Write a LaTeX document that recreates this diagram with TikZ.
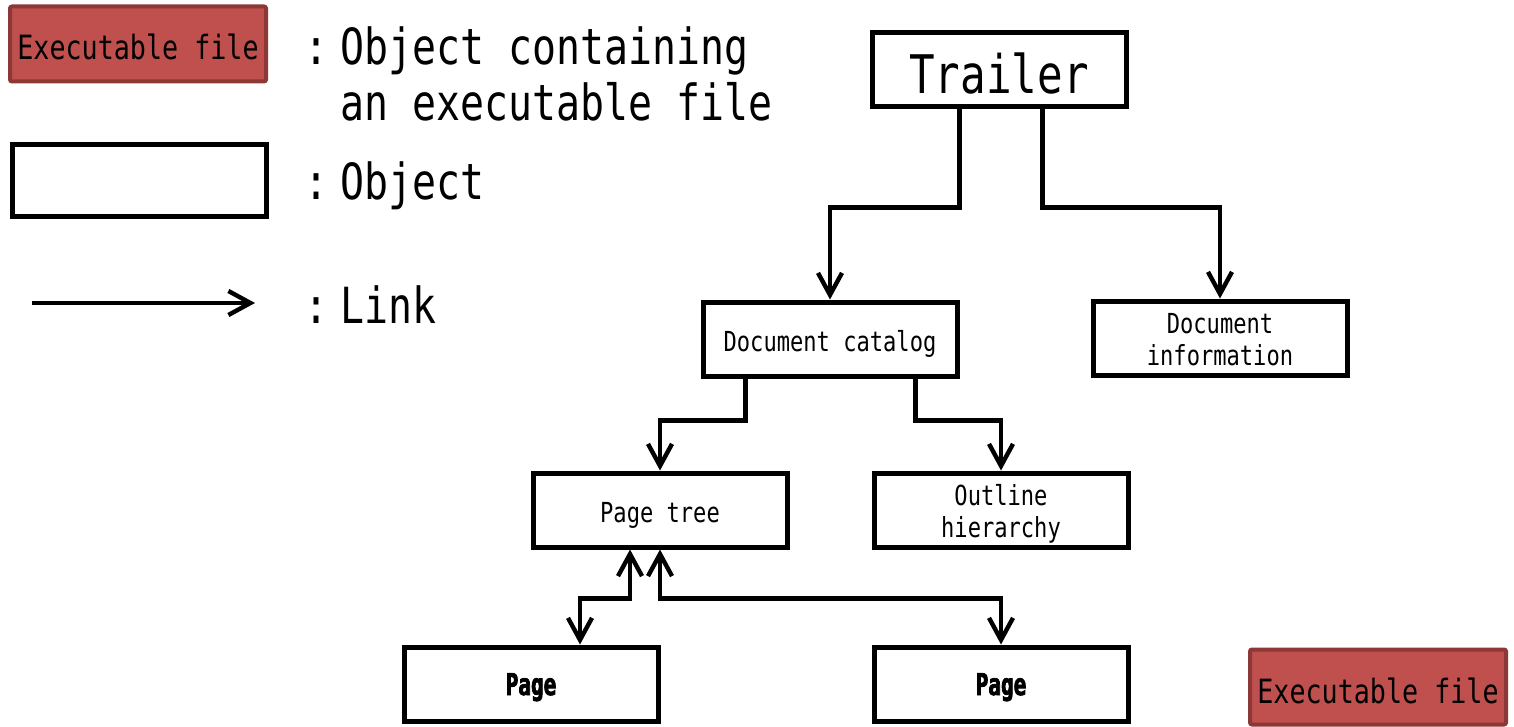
\documentclass[tikz,border=0pt]{standalone}
\usepackage{fontspec}
\usetikzlibrary{arrows.meta,calc}
\newfontfamily\monofont[FakeStretch=0.8]{DejaVu Sans Mono}
\newfontfamily\pagefont[FakeStretch=0.7,BoldFeatures={FakeBold=2.5}]{DejaVu Sans Mono}
\definecolor{exefill}{HTML}{C0504D}
\definecolor{exeborder}{HTML}{8C3836}
\begin{document}
\begin{tikzpicture}[x=0.5pt,y=-0.5pt,
  barb/.tip={Straight Barb[length=11pt,width=12pt]},
  obj/.style={draw=black, line width=2.5pt, fill=white, minimum width=127pt,
    minimum height=37pt, inner sep=0pt, align=center, text depth=0pt, text height=12pt,
    font=\monofont\fontsize{13.8}{16}\selectfont},
  twoline/.style={obj, text height=27pt},
  pagebox/.style={obj, text height=11pt, font=\pagefont\bfseries\fontsize{15}{17}\selectfont},
  bigobj/.style={obj, text height=24pt, font=\monofont\fontsize{26.6}{30}\selectfont},
  exe/.style={draw=exeborder, line width=2pt, fill=exefill, rounded corners=1pt,
    minimum width=128pt, minimum height=37.5pt, inner sep=0pt, text depth=0pt, text height=16pt,
    font=\monofont\fontsize{16.7}{19}\selectfont},
  link/.style={line width=2.2pt, -barb},
  biglink/.style={line width=2.2pt, barb-barb},
  biglabel/.style={anchor=base west, align=left, inner sep=0pt,
    font=\monofont\fontsize{24.9}{28}\selectfont}]
\useasboundingbox (0,0) rectangle (1514,727);

% legend
\node[exe] (legexe) at (138,44) {Executable file};
\node[biglabel] (legexetxt) at (340,121) {\llap{:\hspace{6pt}}Object containing\\an executable file};
\node[obj, minimum height=36pt] (legobj) at (139,181) {};
\node[biglabel] (legobjtxt) at (340,200) {\llap{:\hspace{6pt}}Object};
\coordinate (linkA) at (32,303);
\coordinate (linkB) at (255,303);
\draw[link] (linkA) -- (linkB);
\node[biglabel] (leglinktxt) at (340,323) {\llap{:\hspace{6pt}}Link};

% objects
\node[bigobj] (trailer) at (999,70) {Trailer};
\node[obj] (catalog) at (830,339) {Document catalog};
\node[twoline] (info) at (1220,338) {Document\\information};
\node[obj] (pagetree) at (660,510) {Page tree};
\node[twoline] (outline) at (1001,510) {Outline\\hierarchy};
\node[pagebox] (pageL) at (531,684) {Page};
\node[pagebox] (pageR) at (1001,684) {Page};
\node[exe] (exe) at (1378,687) {Executable file};

% links
\draw[link] ($(trailer.south west)+(90,0)$) -- ++(0,98) -| (catalog.north);
\draw[link] ($(trailer.south west)+(173,0)$) -- ++(0,98) -| (info.north);
\draw[link] ($(catalog.south west)+(45,0)$) -- ++(0,42) -| (pagetree.north);
\draw[link] ($(catalog.south west)+(215,0)$) -- ++(0,42) -| (outline.north);
\draw[biglink] ($(pagetree.south)+(-30,0)$) -- ++(0,49) -| ($(pageL.north)+(49,0)$);
\draw[biglink] (pagetree.south) -- ++(0,49) -| (pageR.north);
\end{tikzpicture}
\end{document}
